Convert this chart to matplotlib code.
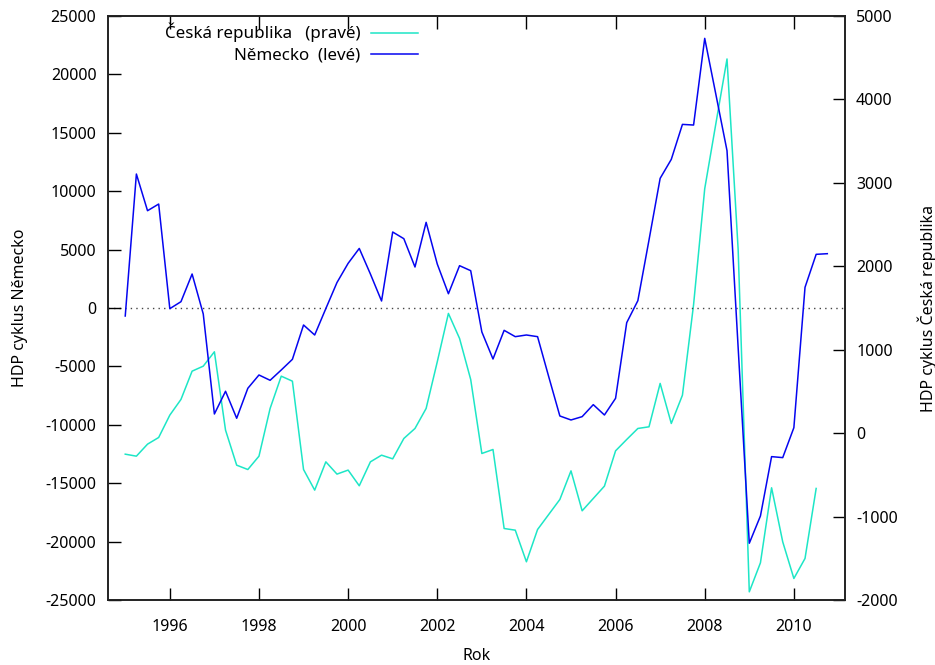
import numpy as np
import matplotlib
matplotlib.use("Agg")
import matplotlib.pyplot as plt

plt.rcParams["font.family"] = ["Noto Sans", "DejaVu Sans"]
plt.rcParams["axes.unicode_minus"] = False

# ── Data (quarterly, 1995Q1 onward) ───────────────────────────────────────────
nemecko = [
    -685, 11470, 8330, 8900, -57, 540, 2910, -510,
    -9074, -7130, -9440, -6875, -5735, -6190, -5307, -4395,
    -1455, -2311, -50, 2180, 3823, 5100, 2910, 600,
    6506, 5934, 3510, 7334, 3766, 1220, 3623, 3195,
    -2050, -4366, -1912, -2454, -2311, -2454, -5877, -9245,
    -9587, -9302, -8275, -9160, -7733, -1255, 628, 5821,
    11100, 12725, 15720, 15665, 23085, 18290, 13470, -3400,
    -20140, -17805, -12725, -12810, -10245, 1770, 4595, 4650,
]
cesko = [
    -252, -276, -132, -52, 216, 404, 743, 803,
    975, 36, -384, -436, -276, 296, 683, 623,
    -436, -683, -344, -491, -443, -631, -344, -264,
    -308, -64, 56, 296, 855, 1435, 1135, 643,
    -244, -196, -1143, -1163, -1542, -1155, -975, -795,
    -452, -931, -783, -635, -212, -76, 56, 76,
    596, 116, 455, 1540, 2930, 3710, 4485, 2200,
    -1902, -1554, -655, -1303, -1742, -1502, -663,
]
roky_de = 1995 + 0.25 * np.arange(len(nemecko))
roky_cz = 1995 + 0.25 * np.arange(len(cesko))

x_ticks = [1996, 1998, 2000, 2002, 2004, 2006, 2008, 2010]
y_left_ticks = list(range(-25000, 25001, 5000))
y_right_ticks = list(range(-2000, 5001, 1000))

BARVA_DE = "#0505f0"
BARVA_CZ = "#1de6c6"
FS = 11.5

# ── Figure ────────────────────────────────────────────────────────────────────
fig = plt.figure(figsize=(9.35, 6.65), dpi=100)
ax = fig.add_axes([107.5 / 935, 65 / 665, 737.5 / 935, 584 / 665])
ax2 = ax.twinx()

ax.axhline(0, color="#444444", linewidth=1.0, linestyle=(0, (1, 3)), zorder=1)
l_cz, = ax2.plot(roky_cz, cesko, color=BARVA_CZ, linewidth=1.1,
                 label="Česká republika   (pravé)")
l_de, = ax.plot(roky_de, nemecko, color=BARVA_DE, linewidth=1.1,
                label="Německo  (levé)")
ax.set_zorder(ax2.get_zorder() + 1)
ax.patch.set_visible(False)

ax.set_xlim(1994.602, 2011.147)
ax.set_ylim(-25000, 25000)
ax2.set_ylim(-2000, 5000)

ax.set_xticks(x_ticks)
ax.set_yticks(y_left_ticks)
ax2.set_yticks(y_right_ticks)

ax.tick_params(axis="x", direction="in", length=9, width=1, top=True,
               labelsize=FS, pad=14)
ax.tick_params(axis="y", direction="in", length=9, width=1, labelsize=FS, pad=8)
ax2.tick_params(axis="y", direction="in", length=9, width=1, labelsize=FS, pad=8)
for a in (ax, ax2):
    for s in a.spines.values():
        s.set_linewidth(1.2)
        s.set_color("#222222")

ax.set_xlabel("Rok", fontsize=FS)
ax.xaxis.set_label_coords(0.5, -0.083)
ax.set_ylabel("HDP cyklus Německo", fontsize=FS)
ax.yaxis.set_label_coords(-0.108, 0.5)
ax2.set_ylabel("HDP cyklus Česká republika", fontsize=FS)
ax2.yaxis.set_label_coords(1.098, 0.5)

leg = ax.legend(handles=[l_cz, l_de], loc="upper right",
                bbox_to_anchor=(418 / 935, 1 - 23 / 665),
                bbox_transform=fig.transFigure, frameon=False,
                markerfirst=False, fontsize=12.2, borderpad=0, borderaxespad=0,
                handlelength=2.8, handletextpad=0.6, labelspacing=0.3)

fig.savefig("out.png", dpi=100)
